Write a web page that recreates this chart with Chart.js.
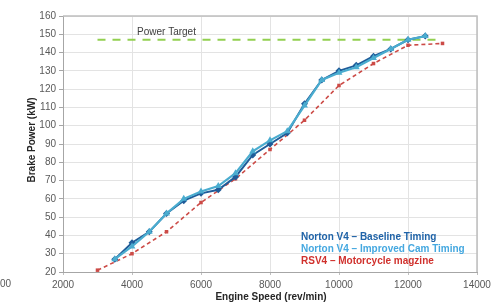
<!DOCTYPE html>
<html>
<head>
<meta charset="utf-8">
<script src="https://cdn.jsdelivr.net/npm/chart.js@4.4.1/dist/chart.umd.min.js"></script>
<style>
  html, body { margin: 0; padding: 0; background: #fff; }
  #wrap { width: 504px; height: 305px; }
</style>
</head>
<body>
<div id="wrap"><canvas id="chart" width="504" height="305"></canvas></div>
<script>
// engine speed (rev/min)
var nortonRpm = [3500, 4000, 4500, 5000, 5500, 6000, 6500, 7000, 7500, 8000, 8500, 9000, 9500, 10000, 10500, 11000, 11500, 12000, 12500];
var baselineKw = [27, 36, 42, 52, 59, 63, 65, 72, 84, 90, 96, 112, 125, 130, 133, 138, 142, 147, 149];
var improvedKw = [27, 34, 42, 52, 60, 64, 67, 74, 86, 92, 97, 111, 125, 129, 132, 137, 142, 147, 149];
var rsvRpm = [3000, 4000, 5000, 6000, 7000, 8000, 9000, 10000, 11000, 12000, 13000];
var rsvKw = [21, 30, 42, 58, 71, 87, 103, 122, 134, 144, 145];
var targetRpm = [3000, 13000];
var targetKw = [147, 147];
var legendNames = ['Norton V4 \u2013 Baseline Timing', 'Norton V4 \u2013 Improved Cam Timing', 'RSV4 \u2013 Motorcycle magzine'];

function pts(xs, ys) {
    var out = [];
    for (var i = 0; i < xs.length; i++) out.push({x: xs[i], y: ys[i]});
    return out;
}

var FONT = '"Liberation Sans", Arial, sans-serif';

var extras = {
    id: 'extras',
    afterDraw: function (chart) {
        var ctx = chart.ctx;
        var a = chart.chartArea;
        var xs = chart.scales.x, ys = chart.scales.y;
        ctx.save();
        // plot border
        ctx.strokeStyle = '#bfbfbf';
        ctx.lineWidth = 1.5;
        ctx.beginPath();
        ctx.moveTo(a.left, a.top);
        ctx.lineTo(a.right, a.top);
        ctx.lineTo(a.right, a.bottom);
        ctx.stroke();

        // power target label
        ctx.font = '10px ' + FONT;
        ctx.fillStyle = '#404040';
        ctx.textAlign = 'center';
        ctx.textBaseline = 'middle';
        ctx.fillText('Power Target', xs.getPixelForValue(5000), ys.getPixelForValue(151));

        // legend
        var cols = ['#1f63a8', '#45a8e0', '#d0312d'];
        ctx.font = 'bold 10px ' + FONT;
        ctx.textAlign = 'left';
        for (var i = 0; i < legendNames.length; i++) {
            ctx.fillStyle = cols[i];
            ctx.fillText(legendNames[i], 301, 237 + i * 12);
        }

        // axis titles
        ctx.fillStyle = '#262626';
        ctx.textAlign = 'center';
        ctx.fillText('Engine Speed (rev/min)', 271, 297);
        ctx.translate(32, 140);
        ctx.rotate(-Math.PI / 2);
        ctx.fillText('Brake Power (kW)', 0, 0);
        ctx.restore();

        // cropped label remnant at far left
        ctx.save();
        ctx.font = '10px ' + FONT;
        ctx.fillStyle = '#595959';
        ctx.textBaseline = 'middle';
        ctx.fillText('00', 0, 284);
        ctx.restore();
    }
};

var ctx = document.getElementById('chart').getContext('2d');
var chart = new Chart(ctx, {
    type: 'line',
    data: {
        datasets: [{
            label: 'Power Target',
            data: pts(targetRpm, targetKw),
            borderColor: '#92d050',
            borderWidth: 2,
            borderDash: [8, 7],
            pointRadius: 0,
            order: 3
        }, {
            label: legendNames[2],
            data: pts(rsvRpm, rsvKw),
            borderColor: '#cc4b47',
            backgroundColor: '#cc4b47',
            borderWidth: 1.6,
            borderDash: [4, 3],
            pointStyle: 'rect',
            pointRadius: 2.5,
            pointBorderWidth: 0,
            order: 2
        }, {
            label: legendNames[0],
            data: pts(nortonRpm, baselineKw),
            borderColor: '#1f5c99',
            backgroundColor: '#1f5c99',
            borderWidth: 2,
            pointStyle: 'rectRot',
            pointRadius: 3.5,
            pointBorderWidth: 0,
            order: 1
        }, {
            label: legendNames[1],
            data: pts(nortonRpm, improvedKw),
            borderColor: '#4aaccf',
            backgroundColor: '#4aaccf',
            borderWidth: 2.2,
            pointStyle: 'triangle',
            pointRadius: 4,
            pointBorderWidth: 0,
            order: 0
        }]
    },
    options: {
        responsive: false,
        animation: false,
        layout: {padding: {top: 16, right: 27, left: 0, bottom: 0}},
        plugins: {legend: {display: false}, tooltip: {enabled: false}},
        scales: {
            x: {
                type: 'linear',
                min: 2000,
                max: 14000,
                ticks: {
                    stepSize: 2000, color: '#595959', font: {size: 10, family: FONT}, padding: 4, maxRotation: 0,
                    callback: function (v) { return String(v); }
                },
                grid: {color: '#e3e3e3', tickLength: 3, tickColor: '#bfbfbf'},
                border: {color: '#a6a6a6', width: 1},
                afterFit: function (s) { s.height = 33; }
            },
            y: {
                min: 20,
                max: 160,
                ticks: {stepSize: 10, color: '#595959', font: {size: 10, family: FONT}, padding: 3},
                grid: {color: '#e3e3e3', tickLength: 4, tickColor: '#a6a6a6'},
                border: {color: '#a6a6a6', width: 1},
                afterFit: function (s) { s.width = 63; }
            }
        }
    },
    plugins: [extras]
});
</script>
</body>
</html>
